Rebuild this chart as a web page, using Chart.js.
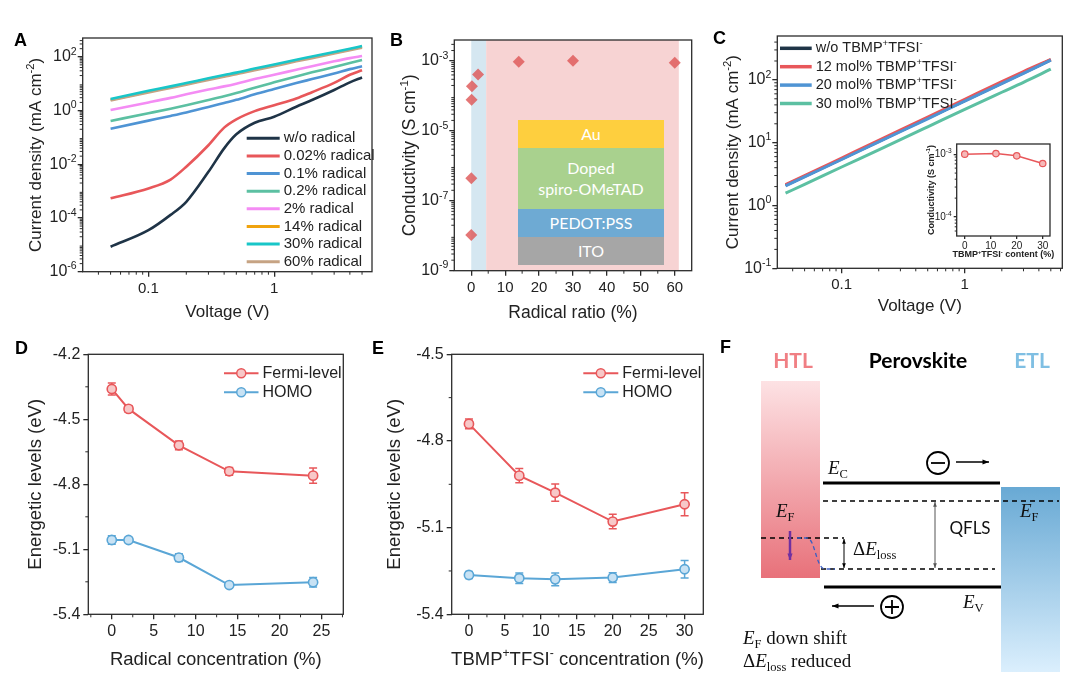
<!DOCTYPE html>
<html>
<head>
<meta charset="utf-8">
<script src="https://cdn.jsdelivr.net/npm/chart.js@4.4.0/dist/chart.umd.min.js"></script>
<style>
body { margin: 0; background: #fff; width: 1080px; height: 685px; overflow: hidden; position: relative; }
.pane { position: absolute; }
.lbl { position: absolute; font: bold 18px "Liberation Sans", Arial, sans-serif; color: #000; line-height: 18px; }
.stack { position: absolute; color: #fff; font: 16px Lato, "Open Sans", sans-serif; display: flex; align-items: center; justify-content: center; text-align: center; line-height: 1.3; }
</style>
</head>
<body>
<div class="pane" style="left:0;top:20px"><canvas id="cA" width="378" height="310"></canvas></div>
<div class="pane" style="left:380px;top:20px"><canvas id="cB" width="320" height="310"></canvas></div>
<div class="pane" style="left:705px;top:20px"><canvas id="cC" width="370" height="310"></canvas></div>
<div class="pane" style="left:905px;top:138px"><canvas id="cCi" width="153" height="124"></canvas></div>
<div class="pane" style="left:0;top:335px"><canvas id="cD" width="360" height="350"></canvas></div>
<div class="pane" style="left:360px;top:335px"><canvas id="cE" width="355" height="350"></canvas></div>
<div class="pane" style="left:740px;top:335px"><canvas id="cF" width="340" height="350"></canvas></div>

<div class="stack" style="left:518px;top:120px;width:146px;height:28px;background:#fecf3e">Au</div>
<div class="stack" style="left:518px;top:148px;width:146px;height:61px;background:#a9d18e">Doped<br>spiro-OMeTAD</div>
<div class="stack" style="left:518px;top:209px;width:146px;height:28px;background:#6eaad3">PEDOT:PSS</div>
<div class="stack" style="left:518px;top:237px;width:146px;height:28px;background:#a6a6a6">ITO</div>

<div class="lbl" style="left:14px;top:31px">A</div>
<div class="lbl" style="left:390px;top:31px">B</div>
<div class="lbl" style="left:713px;top:29px">C</div>
<div class="lbl" style="left:15px;top:339px">D</div>
<div class="lbl" style="left:372px;top:339px">E</div>
<div class="lbl" style="left:720px;top:338px">F</div>

<script>
// ---- panel A: J-V of doped films ----
const voltA = [0.05, 0.1, 0.15, 0.2, 0.3, 0.4, 0.5, 0.7, 1, 1.5, 2, 3, 4, 5];
const jNone = [8.5e-6, 3.5e-5, 1.3e-4, 4.0e-4, 5.2e-3, 3.9e-2, 0.13, 0.35, 0.59, 1.38, 2.45, 5.8, 11.2, 17];
const j002 = [5.4e-4, 1.26e-3, 2.7e-3, 8.1e-3, 0.051, 0.23, 0.47, 0.95, 1.58, 2.8, 4.8, 10.7, 21.4, 31.6];
const j01 = [0.21, 0.42, 0.63, 0.85, 1.35, 1.91, 2.5, 4.0, 6.3, 10.5, 14.8, 24, 34.7, 44.7];
const j02 = [0.41, 0.79, 1.17, 1.58, 2.45, 3.4, 4.5, 7.1, 11.2, 18.6, 26.3, 41.7, 58.9, 76];
const j2 = [1.05, 2.0, 2.95, 4.0, 6.0, 7.9, 10, 14.8, 21.4, 33, 44.7, 67.6, 89, 107];
const j14 = [2.5, 5.0, 7.4, 9.8, 14.8, 19.5, 24, 34, 48, 72.5, 95.5, 141, 187, 235];
const j30 = [2.7, 5.4, 7.9, 10.5, 15.8, 20.9, 25.7, 36.3, 51.3, 77.6, 102, 151, 200, 251];
const j60 = [2.35, 4.7, 6.9, 9.1, 13.8, 18.2, 22.4, 31.6, 44.7, 67.6, 89, 132, 174, 219];
const labelsA = ['w/o radical', '0.02% radical', '0.1% radical', '0.2% radical', '2% radical', '14% radical', '30% radical', '60% radical'];
const ticksAx = [0.1, 1];
const ticksAy = [1e-6, 1e-4, 1e-2, 1, 100];

// ---- panel B: conductivity vs radical ratio ----
const ratioB = [0, 0.02, 0.1, 0.2, 2, 14, 30, 60];
const condB = [1.05e-8, 4.4e-7, 7.8e-5, 1.9e-4, 4.1e-4, 9.6e-4, 1.02e-3, 8.9e-4];
const bandBlue = [0, 4.4];
const bandPink = [4.4, 61.2];
const ticksBx = [0, 10, 20, 30, 40, 50, 60];
const minorBx = [5, 15, 25, 35, 45, 55];
const ticksBy = [1e-9, 1e-7, 1e-5, 1e-3];

// ---- panel C: J-V with TBMP+TFSI- ----
const voltC = [0.035, 0.05, 0.1, 0.2, 0.5, 1, 2, 3, 5];
const jC0 = [2.1, 2.9, 5.5, 10.5, 24.5, 46.8, 89, 129, 209];
const jC12 = [2.15, 2.98, 5.7, 10.9, 25.5, 49, 94, 136, 212];
const jC20 = [2.05, 2.85, 5.4, 10.3, 24, 46, 87, 127, 206];
const jC30 = [1.57, 2.17, 4.1, 7.7, 17.9, 34, 63.6, 91.5, 148];
const labelsC = ['w/o TBMP^{+}TFSI^{-}', '12 mol% TBMP^{+}TFSI^{-}', '20 mol% TBMP^{+}TFSI^{-}', '30 mol% TBMP^{+}TFSI^{-}'];
const ticksCx = [0.1, 1];
const ticksCy = [0.1, 1, 10, 100];
const tbmpContent = [0, 12, 20, 30];
const tbmpCond = [1.0e-3, 1.02e-3, 9.4e-4, 7.1e-4];
const ticksCix = [0, 10, 20, 30];
const ticksCiy = [1e-4, 1e-3];

// ---- panel D: energy levels vs radical concentration ----
const concD = [0, 2, 8, 14, 24];
const fermiD = [-4.36, -4.452, -4.62, -4.74, -4.76];
const fermiErrD = [0.028, 0.015, 0.02, 0.018, 0.035];
const homoD = [-5.057, -5.057, -5.138, -5.265, -5.252];
const homoErrD = [0.02, 0.012, 0.018, 0.01, 0.022];
const ticksDx = [0, 5, 10, 15, 20, 25];
const minorDx = [-2.5, 2.5, 7.5, 12.5, 17.5, 22.5, 27.5];
const ticksDy = [-5.4, -5.1, -4.8, -4.5, -4.2];
const minorDy = [-5.25, -4.95, -4.65, -4.35];

// ---- panel E: energy levels vs TBMP+TFSI- concentration ----
const concE = [0, 7, 12, 20, 30];
const fermiE = [-4.741, -4.92, -4.979, -5.079, -5.019];
const fermiErrE = [0.017, 0.025, 0.03, 0.025, 0.04];
const homoE = [-5.264, -5.275, -5.279, -5.273, -5.244];
const homoErrE = [0.012, 0.018, 0.022, 0.017, 0.03];
const ticksEx = [0, 5, 10, 15, 20, 25, 30];
const minorEx = [2.5, 7.5, 12.5, 17.5, 22.5, 27.5];
const ticksEy = [-5.4, -5.1, -4.8, -4.5];
const minorEy = [-5.25, -4.95, -4.65];

const SANS = '"Liberation Sans", Arial, sans-serif';
const SERIF = '"Liberation Serif", "Times New Roman", serif';
const AXIS = '#2b2b2b';
const RED = '#e8575a', BLUE = '#4f94d4', TEAL = '#5cc0a2', NAVY = '#1f3447';

// minor tick positions on a log axis: 2..9 x each decade inside [lo, hi]
function logMinors(lo, hi) {
  const out = [];
  for (let e = Math.floor(Math.log10(lo)); e <= Math.ceil(Math.log10(hi)); e++) {
    for (let m = 2; m <= 9; m++) {
      const v = m * Math.pow(10, e);
      if (v > lo && v < hi) out.push(v);
    }
  }
  return out;
}

// text with ^{sup} and _{sub}
function parseRich(s) {
  const parts = [], re = /([\^_])\{([^}]*)\}/g;
  let last = 0, m;
  while ((m = re.exec(s))) {
    if (m.index > last) parts.push({ t: s.slice(last, m.index) });
    parts.push({ t: m[2], k: m[1] });
    last = re.lastIndex;
  }
  if (last < s.length) parts.push({ t: s.slice(last) });
  return parts;
}

function drawRich(ctx, text, x, y, o) {
  const parts = typeof text === 'string' ? parseRich(text) : text;
  const size = o.size;
  const fontFor = p => {
    const s = p.k ? size * 0.66 : size;
    return (p.style || o.style || 'normal') + ' ' + (p.weight || o.weight || 'normal') + ' ' + s + 'px ' + (o.family || SANS);
  };
  const widths = parts.map(p => { ctx.font = fontFor(p); return ctx.measureText(p.t).width; });
  const w = widths.reduce((a, b) => a + b, 0);
  ctx.save();
  ctx.translate(x, y);
  if (o.rotate) ctx.rotate(o.rotate);
  let cx = o.align === 'left' ? 0 : o.align === 'right' ? -w : -w / 2;
  ctx.fillStyle = o.color || '#222';
  ctx.textBaseline = 'middle';
  parts.forEach((p, i) => {
    ctx.font = fontFor(p);
    const dy = p.k === '^' ? -size * 0.32 : p.k === '_' ? size * 0.3 : 0;
    ctx.fillText(p.t, cx, dy);
    cx += widths[i];
  });
  ctx.restore();
}

function powParts(v) {
  return [{ t: '10' }, { t: String(Math.round(Math.log10(v))), k: '^' }];
}

function axis(type, min, max, major, o) {
  return {
    type: type, min: min, max: max,
    afterBuildTicks: s => { s.ticks = major.map(v => ({ value: v })); },
    afterFit: s => { if (s.isHorizontal()) s.height = o.size; else s.width = o.size; },
    border: { display: false },
    grid: { drawOnChartArea: false, drawTicks: true, tickLength: o.tick || 5, color: AXIS, lineWidth: 1.3 },
    ticks: {
      display: !o.hide, autoSkip: false, maxRotation: 0, padding: o.pad == null ? 3 : o.pad,
      color: '#222', font: { family: SANS, size: o.font || 15 },
      callback: v => String(+(+v).toFixed(2))
    }
  };
}

function drawLegend(chart, L) {
  const a = chart.chartArea, ctx = chart.ctx;
  chart.data.datasets.forEach((ds, i) => {
    const y = a.top + L.y + i * L.gap, x0 = a.left + L.x;
    ctx.save();
    ctx.strokeStyle = ds.borderColor;
    ctx.lineWidth = L.lw;
    ctx.beginPath(); ctx.moveTo(x0, y); ctx.lineTo(x0 + L.len, y); ctx.stroke();
    if (L.marker) {
      ctx.lineWidth = 1.5;
      ctx.fillStyle = ds.pointBackgroundColor;
      ctx.beginPath(); ctx.arc(x0 + L.len / 2, y, 4.5, 0, Math.PI * 2); ctx.fill(); ctx.stroke();
    }
    ctx.restore();
    drawRich(ctx, ds.label, x0 + L.len + L.tgap, y, { size: L.size, align: 'left' });
  });
}

function errorBars(chart) {
  const ctx = chart.ctx, ys = chart.scales.y;
  chart.data.datasets.forEach((ds, i) => {
    if (!ds.errs) return;
    const meta = chart.getDatasetMeta(i);
    ctx.save();
    ctx.strokeStyle = ds.borderColor;
    ctx.lineWidth = 1.5;
    meta.data.forEach((pt, j) => {
      const v = ds.data[j].y, e = ds.errs[j];
      const y1 = ys.getPixelForValue(v + e), y2 = ys.getPixelForValue(v - e);
      ctx.beginPath();
      ctx.moveTo(pt.x, y1); ctx.lineTo(pt.x, y2);
      ctx.moveTo(pt.x - 4, y1); ctx.lineTo(pt.x + 4, y1);
      ctx.moveTo(pt.x - 4, y2); ctx.lineTo(pt.x + 4, y2);
      ctx.stroke();
    });
    ctx.restore();
  });
}

function panelPlugin(cfg) {
  return {
    id: 'panel',
    beforeDatasetsDraw(chart) { if (cfg.under) cfg.under(chart); },
    afterDatasetsDraw(chart) {
      const ctx = chart.ctx, a = chart.chartArea, xs = chart.scales.x, ys = chart.scales.y;
      const mlen = cfg.minorLen || 3;
      ctx.save();
      ctx.strokeStyle = AXIS;
      ctx.lineWidth = 1.3;
      ctx.strokeRect(a.left, a.top, a.right - a.left, a.bottom - a.top);
      ctx.lineWidth = 1;
      (cfg.minorX || []).forEach(v => {
        const p = xs.getPixelForValue(v);
        ctx.beginPath(); ctx.moveTo(p, a.bottom); ctx.lineTo(p, a.bottom + mlen); ctx.stroke();
      });
      (cfg.minorY || []).forEach(v => {
        const p = ys.getPixelForValue(v);
        ctx.beginPath(); ctx.moveTo(a.left, p); ctx.lineTo(a.left - mlen, p); ctx.stroke();
      });
      ctx.restore();
      (cfg.powY || []).forEach(v => drawRich(ctx, powParts(v), a.left - cfg.powGap, ys.getPixelForValue(v), { size: cfg.tickSize, align: 'right' }));
      const tw = cfg.titleWeight || 'normal';
      if (cfg.yTitle) drawRich(ctx, cfg.yTitle, cfg.yTitleX, (a.top + a.bottom) / 2, { size: cfg.titleSize, rotate: -Math.PI / 2, weight: tw });
      if (cfg.xTitle) drawRich(ctx, cfg.xTitle, (a.left + a.right) / 2, cfg.xTitleY, { size: cfg.titleSize, weight: tw });
      if (cfg.legend) drawLegend(chart, cfg.legend);
    }
  };
}

function baseOptions(pad, scales) {
  return {
    responsive: false, animation: false,
    layout: { padding: pad },
    plugins: { legend: { display: false }, tooltip: { enabled: false } },
    scales: scales
  };
}

function series(xs, ys) { return xs.map((x, i) => ({ x: x, y: ys[i] })); }

function curve(label, xs, ys, color, width, order) {
  return { label: label, data: series(xs, ys), borderColor: color, backgroundColor: color, borderWidth: width,
    showLine: true, pointRadius: 0, cubicInterpolationMode: 'monotone', order: order || 0 };
}

// ---------- A ----------
const colorsA = [NAVY, RED, BLUE, TEAL, '#f48cf4', '#f0a30e', '#18c6c8', '#c6a383'];
const seriesA = [jNone, j002, j01, j02, j2, j14, j30, j60];
const orderA = [0, 0, 0, 0, 0, 2, -1, 1];
new Chart(document.getElementById('cA'), {
  type: 'scatter',
  data: { datasets: seriesA.map((s, i) => curve(labelsA[i], voltA, s, colorsA[i], 2.6, orderA[i])) },
  options: baseOptions({ left: 0, top: 18, right: 6, bottom: 0 }, {
    x: axis('logarithmic', 0.03, 6, ticksAx, { size: 58.3 }),
    y: axis('logarithmic', 1e-6, 500, ticksAy, { size: 82.7, hide: true })
  }),
  plugins: [panelPlugin({
    minorX: logMinors(0.03, 6), minorY: logMinors(1e-6, 500), powY: ticksAy, powGap: 6, tickSize: 16,
    yTitle: 'Current density (mA cm^{-2})', yTitleX: 36, xTitle: 'Voltage (V)', xTitleY: 292, titleSize: 17,
    legend: { x: 164, y: 100.3, gap: 17.63, len: 33, tgap: 4, lw: 3, size: 15 }
  })]
});

// ---------- B ----------
new Chart(document.getElementById('cB'), {
  type: 'scatter',
  data: { datasets: [{ label: 'Conductivity', data: series(ratioB, condB), pointStyle: 'rectRot', pointRadius: 6,
    pointBackgroundColor: 'rgba(222,88,88,0.82)', pointBorderWidth: 0, backgroundColor: 'rgba(222,88,88,0.82)', borderColor: 'rgba(0,0,0,0)' }] },
  options: baseOptions({ left: 0, top: 20, right: 8.3, bottom: 0 }, {
    x: axis('linear', -5, 65, ticksBx, { size: 59.3 }),
    y: axis('logarithmic', 1e-9, 4e-3, ticksBy, { size: 74.3, hide: true })
  }),
  plugins: [panelPlugin({
    under: chart => {
      const ctx = chart.ctx, a = chart.chartArea, xs = chart.scales.x;
      ctx.save();
      ctx.fillStyle = '#d5e7f1';
      ctx.fillRect(xs.getPixelForValue(bandBlue[0]), a.top, xs.getPixelForValue(bandBlue[1]) - xs.getPixelForValue(bandBlue[0]), a.bottom - a.top);
      ctx.fillStyle = '#f7d3d3';
      ctx.fillRect(xs.getPixelForValue(bandPink[0]), a.top, xs.getPixelForValue(bandPink[1]) - xs.getPixelForValue(bandPink[0]), a.bottom - a.top);
      ctx.restore();
    },
    minorX: minorBx, minorY: logMinors(1e-9, 4e-3), powY: ticksBy, powGap: 6, tickSize: 16,
    yTitle: 'Conductivity (S cm^{-1})', yTitleX: 30, xTitle: 'Radical ratio (%)', xTitleY: 293.3, titleSize: 17.5
  })]
});

// ---------- C ----------
const colorsC = [NAVY, RED, BLUE, TEAL];
const seriesC = [jC0, jC12, jC20, jC30];
const orderC = [2, 1, 0, 0];
new Chart(document.getElementById('cC'), {
  type: 'scatter',
  data: { datasets: seriesC.map((s, i) => curve(labelsC[i], voltC, s, colorsC[i], 3, orderC[i])) },
  options: baseOptions({ left: 0, top: 16, right: 12.7, bottom: 0 }, {
    x: axis('logarithmic', 0.03, 6.2, ticksCx, { size: 61.7 }),
    y: axis('logarithmic', 0.1, 500, ticksCy, { size: 72.3, hide: true })
  }),
  plugins: [panelPlugin({
    minorX: logMinors(0.03, 6.2), minorY: logMinors(0.1, 500), powY: ticksCy, powGap: 6, tickSize: 16,
    yTitle: 'Current density (mA cm^{-2})', yTitleX: 28.3, xTitle: 'Voltage (V)', xTitleY: 286.7, titleSize: 17,
    legend: { x: 2.7, y: 12.3, gap: 18.4, len: 31.7, tgap: 4, lw: 3.5, size: 14.5 }
  })]
});

// ---------- C inset ----------
new Chart(document.getElementById('cCi'), {
  type: 'scatter',
  data: { datasets: [{ label: 'inset', data: series(tbmpContent, tbmpCond), borderColor: RED, backgroundColor: RED, borderWidth: 1.5,
    showLine: true, pointRadius: 3.2, pointBorderWidth: 1.2, pointBackgroundColor: '#f6b8b8', pointBorderColor: RED }] },
  options: baseOptions({ left: 0, top: 6, right: 8, bottom: 0 }, {
    x: axis('linear', -3.1, 32.8, ticksCix, { size: 26, font: 10, tick: 3, pad: 1 }),
    y: axis('logarithmic', 5e-5, 1.45e-3, ticksCiy, { size: 51.7, hide: true, tick: 3 })
  }),
  plugins: [panelPlugin({
    minorY: logMinors(5e-5, 1.45e-3), minorLen: 2,
    powY: ticksCiy, powGap: 5, tickSize: 10, titleWeight: 'bold',
    yTitle: 'Conductivity (S cm^{-1})', yTitleX: 26.7, xTitle: 'TBMP^{+}TFSI^{-} content (%)', xTitleY: 117, titleSize: 9
  })]
});

// ---------- D / E ----------
function levelSet(label, xs, ys, errs, color, fill) {
  return { label: label, data: series(xs, ys), errs: errs, borderColor: color, backgroundColor: color, borderWidth: 2,
    showLine: true, pointRadius: 4.6, pointBorderWidth: 1.6, pointBackgroundColor: fill, pointBorderColor: color };
}
const BLUE2 = '#5aa6d6';

new Chart(document.getElementById('cD'), {
  type: 'scatter',
  data: { datasets: [
    levelSet('Fermi-level', concD, fermiD, fermiErrD, RED, '#f7c8c8'),
    levelSet('HOMO', concD, homoD, homoErrD, BLUE2, '#c8e2f4')
  ] },
  options: baseOptions({ left: 0, top: 19.3, right: 16.7, bottom: 0 }, {
    x: axis('linear', -2.8, 27.6, ticksDx, { size: 70.7, font: 16 }),
    y: axis('linear', -5.4, -4.2, ticksDy, { size: 88.3, font: 16 })
  }),
  plugins: [panelPlugin({
    under: errorBars, minorX: minorDx, minorY: minorDy,
    yTitle: 'Energetic levels (eV)', yTitleX: 36, xTitle: 'Radical concentration (%)', xTitleY: 325, titleSize: 18.5,
    legend: { x: 135.7, y: 19, gap: 19, len: 34.5, tgap: 4, lw: 2, size: 16, marker: true }
  })]
});

new Chart(document.getElementById('cE'), {
  type: 'scatter',
  data: { datasets: [
    levelSet('Fermi-level', concE, fermiE, fermiErrE, RED, '#f7c8c8'),
    levelSet('HOMO', concE, homoE, homoErrE, BLUE2, '#c8e2f4')
  ] },
  options: baseOptions({ left: 0, top: 19.3, right: 11.7, bottom: 0 }, {
    x: axis('linear', -2.4, 32.6, ticksEx, { size: 70.7, font: 16 }),
    y: axis('linear', -5.4, -4.5, ticksEy, { size: 91.7, font: 16 })
  }),
  plugins: [panelPlugin({
    under: errorBars, minorX: minorEx, minorY: minorEy,
    yTitle: 'Energetic levels (eV)', yTitleX: 35, xTitle: 'TBMP^{+}TFSI^{-} concentration (%)', xTitleY: 325, titleSize: 18.5,
    legend: { x: 131.6, y: 19, gap: 19, len: 35, tgap: 4, lw: 2, size: 16, marker: true }
  })]
});

// ---------- F: band diagram (schematic, drawn on a hidden 0-340 / 0-350 grid) ----------
const schematic = {
  id: 'schematic',
  afterDraw(chart) {
    const ctx = chart.ctx;
    const X = v => chart.scales.x.getPixelForValue(v), Y = v => chart.scales.y.getPixelForValue(v);
    const rect = (x1, y1, x2, y2, c1, c2) => {
      const g = ctx.createLinearGradient(0, Y(y1), 0, Y(y2));
      g.addColorStop(0, c1); g.addColorStop(1, c2);
      ctx.fillStyle = g;
      ctx.fillRect(X(x1), Y(y1), X(x2) - X(x1), Y(y2) - Y(y1));
    };
    const line = (x1, y1, x2, y2, w, c, dash) => {
      ctx.save();
      ctx.strokeStyle = c; ctx.lineWidth = w;
      if (dash) ctx.setLineDash(dash);
      ctx.beginPath(); ctx.moveTo(X(x1), Y(y1)); ctx.lineTo(X(x2), Y(y2)); ctx.stroke();
      ctx.restore();
    };
    const arrow = (x1, y1, x2, y2, c, w, h, both) => {
      ctx.save();
      ctx.strokeStyle = c; ctx.fillStyle = c; ctx.lineWidth = w;
      const ang = Math.atan2(Y(y2) - Y(y1), X(x2) - X(x1));
      ctx.beginPath(); ctx.moveTo(X(x1), Y(y1)); ctx.lineTo(X(x2), Y(y2)); ctx.stroke();
      const head = (px, py, a) => {
        ctx.beginPath();
        ctx.moveTo(px, py);
        ctx.lineTo(px - h * Math.cos(a - 0.38), py - h * Math.sin(a - 0.38));
        ctx.lineTo(px - h * Math.cos(a + 0.38), py - h * Math.sin(a + 0.38));
        ctx.closePath(); ctx.fill();
      };
      head(X(x2), Y(y2), ang);
      if (both) head(X(x1), Y(y1), ang + Math.PI);
      ctx.restore();
    };
    const charge = (cx, cy, plus) => {
      ctx.save();
      ctx.strokeStyle = '#000'; ctx.lineWidth = 1.8;
      ctx.beginPath(); ctx.arc(X(cx), Y(cy), 11, 0, Math.PI * 2); ctx.stroke();
      ctx.beginPath(); ctx.moveTo(X(cx) - 7, Y(cy)); ctx.lineTo(X(cx) + 7, Y(cy));
      if (plus) { ctx.moveTo(X(cx), Y(cy) - 7); ctx.lineTo(X(cx), Y(cy) + 7); }
      ctx.stroke();
      ctx.restore();
    };

    rect(21, 46, 80, 243, '#fde2e4', '#e8717a');
    rect(261, 152, 320, 337, '#68a9d4', '#dbeffd');

    line(83, 148, 260, 148, 3, '#000');
    line(84, 252, 261, 252, 3, '#000');
    line(83, 166, 319, 166, 1.3, '#000', [5, 4]);
    line(21, 203, 104, 203, 1.3, '#000', [5, 4]);
    line(81, 234, 255, 234, 1.3, '#000', [5, 4]);

    ctx.save();
    ctx.strokeStyle = '#3c5fc2'; ctx.lineWidth = 1.3; ctx.setLineDash([4, 3]);
    ctx.beginPath();
    ctx.moveTo(X(57), Y(203)); ctx.lineTo(X(67), Y(203));
    ctx.bezierCurveTo(X(75), Y(203), X(76), Y(234), X(85), Y(234));
    ctx.lineTo(X(95), Y(234));
    ctx.stroke();
    ctx.restore();

    arrow(50, 196, 50, 225, '#7030a0', 2.5, 7);
    arrow(104, 204, 104, 233, '#000', 1, 5, true);
    arrow(195, 167, 195, 233, '#555', 1, 5, true);
    arrow(216, 127, 249, 127, '#000', 1.3, 7);
    arrow(134, 271, 92, 271, '#000', 1.3, 7);
    charge(198, 128, false);
    charge(152, 272, true);

    const lato = '"Lato", "Liberation Sans", sans-serif';
    drawRich(ctx, 'HTL', X(53), Y(26), { size: 21, weight: 'bold', family: lato, color: '#f07f84' });
    drawRich(ctx, 'Perovskite', X(178), Y(26), { size: 21, weight: 'bold', family: lato, color: '#000' });
    drawRich(ctx, 'ETL', X(292), Y(26), { size: 21, weight: 'bold', family: lato, color: '#7fbfe3' });
    drawRich(ctx, 'QFLS', X(230), Y(194), { size: 17, family: lato, color: '#111' });

    const E = sub => [{ t: 'E', style: 'italic' }, { t: sub, k: '_' }];
    const serif = { size: 19, family: SERIF, align: 'left', color: '#111' };
    drawRich(ctx, E('C'), X(88), Y(134), serif);
    drawRich(ctx, E('F'), X(36), Y(177), serif);
    drawRich(ctx, E('F'), X(280), Y(177), serif);
    drawRich(ctx, E('V'), X(223), Y(268), serif);
    drawRich(ctx, [{ t: 'Δ' }].concat(E('loss')), X(113), Y(215), serif);
    drawRich(ctx, E('F').concat([{ t: ' down shift' }]), X(3), Y(304), serif);
    drawRich(ctx, [{ t: 'Δ' }].concat(E('loss'), [{ t: ' reduced' }]), X(3), Y(327), serif);
  }
};

new Chart(document.getElementById('cF'), {
  type: 'scatter',
  data: { datasets: [] },
  options: baseOptions(0, {
    x: { type: 'linear', min: 0, max: 340, display: false },
    y: { type: 'linear', min: 0, max: 350, reverse: true, display: false }
  }),
  plugins: [schematic]
});
</script>
</body>
</html>
